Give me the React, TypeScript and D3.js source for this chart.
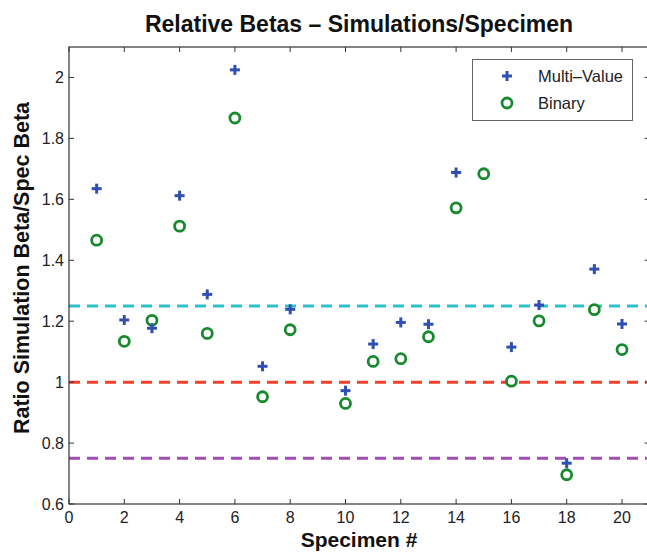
import * as d3 from 'd3';
import * as React from 'react';

// Specimen numbers and the two series (NaN = no marker drawn)
const specimens = [1, 2, 3, 4, 5, 6, 7, 8, 9, 10, 11, 12, 13, 14, 15, 16, 17, 18, 19, 20];
const multiValue = [1.635, 1.204, 1.177, 1.612, 1.288, 2.025, 1.052, 1.239, NaN, 0.972,
    1.125, 1.196, 1.19, 1.688, NaN, 1.115, 1.253, 0.734, 1.371, 1.191];
const binary = [1.466, 1.134, 1.203, 1.512, 1.16, 1.867, 0.952, 1.172, NaN, 0.93,
    1.068, 1.077, 1.149, 1.572, 1.684, 1.003, 1.201, 0.696, 1.238, 1.107];

// Reference levels drawn as dashed lines
const refLevels = [1.25, 1, 0.75];
const refColors = ['#2ec2c6', '#f2402e', '#a24db4'];

const xTicks = [0, 2, 4, 6, 8, 10, 12, 14, 16, 18, 20];
const yTicks = [0.6, 0.8, 1, 1.2, 1.4, 1.6, 1.8, 2];

const legendLabels = ['Multi–Value', 'Binary'];

const W = 647;
const H = 552;
const margin = { left: 69, top: 47, bottom: 504 };
const font = 'Liberation Sans, Arial, Helvetica, sans-serif';

const blue = '#2f4fb3';
const green = '#168a2c';

function Plus({ x, y }: { x: number; y: number }) {
    const s = 5;
    return (
        <g stroke={blue} strokeWidth={3}>
            <line x1={x - s} x2={x + s} y1={y} y2={y} />
            <line x1={x} x2={x} y1={y - s} y2={y + s} />
        </g>
    );
}

function Ring({ x, y }: { x: number; y: number }) {
    return <circle cx={x} cy={y} r={5} fill="#fff" stroke={green} strokeWidth={2.8} />;
}

export default function App() {
    const x = d3.scaleLinear().domain([0, 21]).range([margin.left, margin.left + 21 * 27.65]);
    const y = d3.scaleLinear().domain([0.6, 2.1]).range([margin.bottom, margin.top]);
    const x0 = x(0), x1 = x(21), y0 = y(0.6), y1 = y(2.1);
    const tick = 5;

    return (
        <div style={{ position: 'fixed', left: 0, top: 0 }}>
            <svg width={W} height={H} style={{ display: 'block', background: '#fff' }}>
                <text x={359} y={32} textAnchor="middle" fontFamily={font} fontWeight="bold" fontSize={23} fill="#111">
                    Relative Betas – Simulations/Specimen
                </text>

                {/* reference lines */}
                {refLevels.map((v, i) => (
                    <line key={v} x1={x0} x2={x1} y1={y(v)} y2={y(v)} stroke={refColors[i]}
                        strokeWidth={3} strokeDasharray="11 7" />
                ))}

                {/* axes box */}
                <rect x={x0} y={y1} width={x1 - x0} height={y0 - y1} fill="none" stroke="#333" strokeWidth={1.2} />
                {xTicks.map(t => (
                    <g key={'x' + t}>
                        <line x1={x(t)} x2={x(t)} y1={y0} y2={y0 - tick} stroke="#333" />
                        <line x1={x(t)} x2={x(t)} y1={y1} y2={y1 + tick} stroke="#333" />
                        <text x={x(t)} y={523} textAnchor="middle" fontFamily={font} fontSize={16} fill="#222">{t}</text>
                    </g>
                ))}
                {yTicks.map(t => (
                    <g key={'y' + t}>
                        <line x1={x0} x2={x0 + tick} y1={y(t)} y2={y(t)} stroke="#333" />
                        <line x1={x1} x2={x1 - tick} y1={y(t)} y2={y(t)} stroke="#333" />
                        <text x={x0 - 5} y={y(t) + 6} textAnchor="end" fontFamily={font} fontSize={16} fill="#222">
                            {d3.format('~g')(t)}
                        </text>
                    </g>
                ))}

                <text x={359} y={547} textAnchor="middle" fontFamily={font} fontWeight="bold" fontSize={21} fill="#111">
                    Specimen #
                </text>
                <text transform="translate(29,268) rotate(-90)" textAnchor="middle" fontFamily={font}
                    fontWeight="bold" fontSize={21.5} fill="#111">
                    Ratio Simulation Beta/Spec Beta
                </text>

                {/* data */}
                {specimens.map((s, i) => isNaN(binary[i]) ? null : <Ring key={'b' + s} x={x(s)} y={y(binary[i])} />)}
                {specimens.map((s, i) => isNaN(multiValue[i]) ? null : <Plus key={'m' + s} x={x(s)} y={y(multiValue[i])} />)}

                {/* legend */}
                <rect x={472.5} y={59.5} width={160} height={61} fill="#fff" stroke="#666" strokeWidth={1} />
                <Plus x={507} y={76} />
                <Ring x={507} y={103} />
                <text x={538} y={82} fontFamily={font} fontSize={16.5} fill="#222">{legendLabels[0]}</text>
                <text x={538} y={109} fontFamily={font} fontSize={16.5} fill="#222">{legendLabels[1]}</text>
            </svg>
        </div>
    );
}
